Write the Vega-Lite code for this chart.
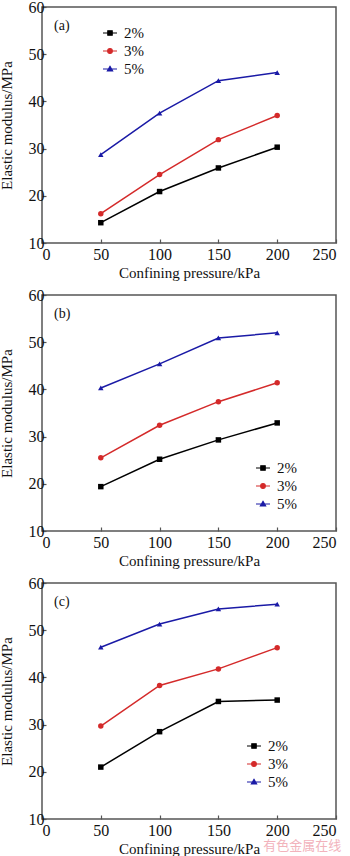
{
  "$schema": "https://vega.github.io/schema/vega-lite/v6.json",
  "background": "white",
  "padding": {"left": -2, "top": -2, "right": 0, "bottom": 0},
  "spacing": 5,
  "datasets": {
    "d": [
      {"panel": "a", "pressure": 50, "content": "2%", "modulus": 14.3},
      {"panel": "a", "pressure": 100, "content": "2%", "modulus": 20.9},
      {"panel": "a", "pressure": 150, "content": "2%", "modulus": 25.9},
      {"panel": "a", "pressure": 200, "content": "2%", "modulus": 30.3},
      {"panel": "a", "pressure": 50, "content": "3%", "modulus": 16.2},
      {"panel": "a", "pressure": 100, "content": "3%", "modulus": 24.5},
      {"panel": "a", "pressure": 150, "content": "3%", "modulus": 31.9},
      {"panel": "a", "pressure": 200, "content": "3%", "modulus": 37.0},
      {"panel": "a", "pressure": 50, "content": "5%", "modulus": 28.7},
      {"panel": "a", "pressure": 100, "content": "5%", "modulus": 37.5},
      {"panel": "a", "pressure": 150, "content": "5%", "modulus": 44.4},
      {"panel": "a", "pressure": 200, "content": "5%", "modulus": 46.1},
      {"panel": "b", "pressure": 50, "content": "2%", "modulus": 19.4},
      {"panel": "b", "pressure": 100, "content": "2%", "modulus": 25.2},
      {"panel": "b", "pressure": 150, "content": "2%", "modulus": 29.3},
      {"panel": "b", "pressure": 200, "content": "2%", "modulus": 32.9},
      {"panel": "b", "pressure": 50, "content": "3%", "modulus": 25.5},
      {"panel": "b", "pressure": 100, "content": "3%", "modulus": 32.4},
      {"panel": "b", "pressure": 150, "content": "3%", "modulus": 37.4},
      {"panel": "b", "pressure": 200, "content": "3%", "modulus": 41.4},
      {"panel": "b", "pressure": 50, "content": "5%", "modulus": 40.3},
      {"panel": "b", "pressure": 100, "content": "5%", "modulus": 45.4},
      {"panel": "b", "pressure": 150, "content": "5%", "modulus": 50.9},
      {"panel": "b", "pressure": 200, "content": "5%", "modulus": 52.0},
      {"panel": "c", "pressure": 50, "content": "2%", "modulus": 21.0},
      {"panel": "c", "pressure": 100, "content": "2%", "modulus": 28.5},
      {"panel": "c", "pressure": 150, "content": "2%", "modulus": 34.9},
      {"panel": "c", "pressure": 200, "content": "2%", "modulus": 35.2},
      {"panel": "c", "pressure": 50, "content": "3%", "modulus": 29.7},
      {"panel": "c", "pressure": 100, "content": "3%", "modulus": 38.3},
      {"panel": "c", "pressure": 150, "content": "3%", "modulus": 41.8},
      {"panel": "c", "pressure": 200, "content": "3%", "modulus": 46.3},
      {"panel": "c", "pressure": 50, "content": "5%", "modulus": 46.4},
      {"panel": "c", "pressure": 100, "content": "5%", "modulus": 51.3},
      {"panel": "c", "pressure": 150, "content": "5%", "modulus": 54.5},
      {"panel": "c", "pressure": 200, "content": "5%", "modulus": 55.5}
    ]
  },
  "config": {
    "font": "Liberation Serif",
    "view": {"stroke": "#555555", "strokeWidth": 1.5},
    "axis": {
      "grid": false,
      "domain": false,
      "tickColor": "#555555",
      "tickSize": -4,
      "tickWidth": 1.2,
      "labelFont": "Liberation Serif",
      "labelFontSize": 16,
      "labelColor": "#111111",
      "titleFont": "Liberation Serif",
      "titleFontSize": 15,
      "titleFontWeight": "normal",
      "titleColor": "#111111",
      "labelPadding": 2,
      "titlePadding": 3
    },
    "axisX": {"labelPadding": 7},
    "axisY": {"titlePadding": 14},
    "legend": {"labelFont": "Liberation Serif", "labelFontSize": 15, "labelColor": "#111111", "symbolSize": 196, "symbolStrokeWidth": 1.1, "rowPadding": 2, "labelOffset": 6, "title": null},
    "title": {"font": "Liberation Serif", "fontSize": 14, "fontWeight": "normal", "color": "#111111"}
  },
  "title": {"text": "有色金属在线", "orient": "bottom", "anchor": "end", "font": "Noto Sans CJK SC", "fontSize": 13, "color": "#f2b3bc", "offset": -17, "dx": 4},
  "resolve": {"legend": {"color": "independent"}},
  "vconcat": [
    {
      "width": 294, "height": 236,
      "title": {"text": "(a)", "anchor": "start", "frame": "group", "offset": -34, "dx": 12},
      "data": {"name": "d"},
      "transform": [{"filter": "datum.panel === 'a'"}],
      "encoding": {
        "x": {"field": "pressure", "type": "quantitative", "scale": {"domain": [0, 250]}, "axis": {"values": [0, 50, 100, 150, 200, 250], "title": "Confining pressure/kPa"}},
        "y": {"field": "modulus", "type": "quantitative", "scale": {"domain": [10, 60]}, "axis": {"values": [10, 20, 30, 40, 50, 60], "title": "Elastic modulus/MPa"}},
        "color": {"field": "content", "type": "nominal", "scale": {"domain": ["2%", "3%", "5%"], "range": ["#000000", "#d42a2a", "#1a1aa6"]},
          "legend": {"orient": "none", "legendX": 60, "legendY": 18, "labelFont": "Liberation Serif",
            "symbolType": {"expr": "datum.value === '2%' ? 'M-1,0H1M-0.32,-0.32H0.32V0.32H-0.32Z' : datum.value === '3%' ? 'M-1,0H1M-0.34,0A0.34,0.34 0 1,0 0.34,0A0.34,0.34 0 1,0 -0.34,0' : 'M-1,0H1M0,-0.38L0.38,0.28H-0.38Z'"}}}
      },
      "layer": [
        {"mark": {"type": "line", "strokeWidth": 1.5}},
        {"mark": {"type": "point", "filled": true, "opacity": 1, "size": 30},
         "encoding": {"shape": {"condition": [{"test": "datum.content === '2%'", "value": "square"}, {"test": "datum.content === '3%'", "value": "circle"}], "value": "triangle-up"}}}
      ]
    },
    {
      "width": 294, "height": 236,
      "title": {"text": "(b)", "anchor": "start", "frame": "group", "offset": -34, "dx": 12},
      "data": {"name": "d"},
      "transform": [{"filter": "datum.panel === 'b'"}],
      "encoding": {
        "x": {"field": "pressure", "type": "quantitative", "scale": {"domain": [0, 250]}, "axis": {"values": [0, 50, 100, 150, 200, 250], "title": "Confining pressure/kPa"}},
        "y": {"field": "modulus", "type": "quantitative", "scale": {"domain": [10, 60]}, "axis": {"values": [10, 20, 30, 40, 50, 60], "title": "Elastic modulus/MPa"}},
        "color": {"field": "content", "type": "nominal", "scale": {"domain": ["2%", "3%", "5%"], "range": ["#000000", "#d42a2a", "#1a1aa6"]},
          "legend": {"orient": "none", "legendX": 213, "legendY": 165, "labelFont": "Liberation Serif",
            "symbolType": {"expr": "datum.value === '2%' ? 'M-1,0H1M-0.32,-0.32H0.32V0.32H-0.32Z' : datum.value === '3%' ? 'M-1,0H1M-0.34,0A0.34,0.34 0 1,0 0.34,0A0.34,0.34 0 1,0 -0.34,0' : 'M-1,0H1M0,-0.38L0.38,0.28H-0.38Z'"}}}
      },
      "layer": [
        {"mark": {"type": "line", "strokeWidth": 1.5}},
        {"mark": {"type": "point", "filled": true, "opacity": 1, "size": 30},
         "encoding": {"shape": {"condition": [{"test": "datum.content === '2%'", "value": "square"}, {"test": "datum.content === '3%'", "value": "circle"}], "value": "triangle-up"}}}
      ]
    },
    {
      "width": 294, "height": 236,
      "title": {"text": "(c)", "anchor": "start", "frame": "group", "offset": -34, "dx": 12},
      "data": {"name": "d"},
      "transform": [{"filter": "datum.panel === 'c'"}],
      "encoding": {
        "x": {"field": "pressure", "type": "quantitative", "scale": {"domain": [0, 250]}, "axis": {"values": [0, 50, 100, 150, 200, 250], "title": "Confining pressure/kPa"}},
        "y": {"field": "modulus", "type": "quantitative", "scale": {"domain": [10, 60]}, "axis": {"values": [10, 20, 30, 40, 50, 60], "title": "Elastic modulus/MPa"}},
        "color": {"field": "content", "type": "nominal", "scale": {"domain": ["2%", "3%", "5%"], "range": ["#000000", "#d42a2a", "#1a1aa6"]},
          "legend": {"orient": "none", "legendX": 204, "legendY": 155, "labelFont": "Liberation Serif",
            "symbolType": {"expr": "datum.value === '2%' ? 'M-1,0H1M-0.32,-0.32H0.32V0.32H-0.32Z' : datum.value === '3%' ? 'M-1,0H1M-0.34,0A0.34,0.34 0 1,0 0.34,0A0.34,0.34 0 1,0 -0.34,0' : 'M-1,0H1M0,-0.38L0.38,0.28H-0.38Z'"}}}
      },
      "layer": [
        {"mark": {"type": "line", "strokeWidth": 1.5}},
        {"mark": {"type": "point", "filled": true, "opacity": 1, "size": 30},
         "encoding": {"shape": {"condition": [{"test": "datum.content === '2%'", "value": "square"}, {"test": "datum.content === '3%'", "value": "circle"}], "value": "triangle-up"}}}
      ]
    }
  ]
}
